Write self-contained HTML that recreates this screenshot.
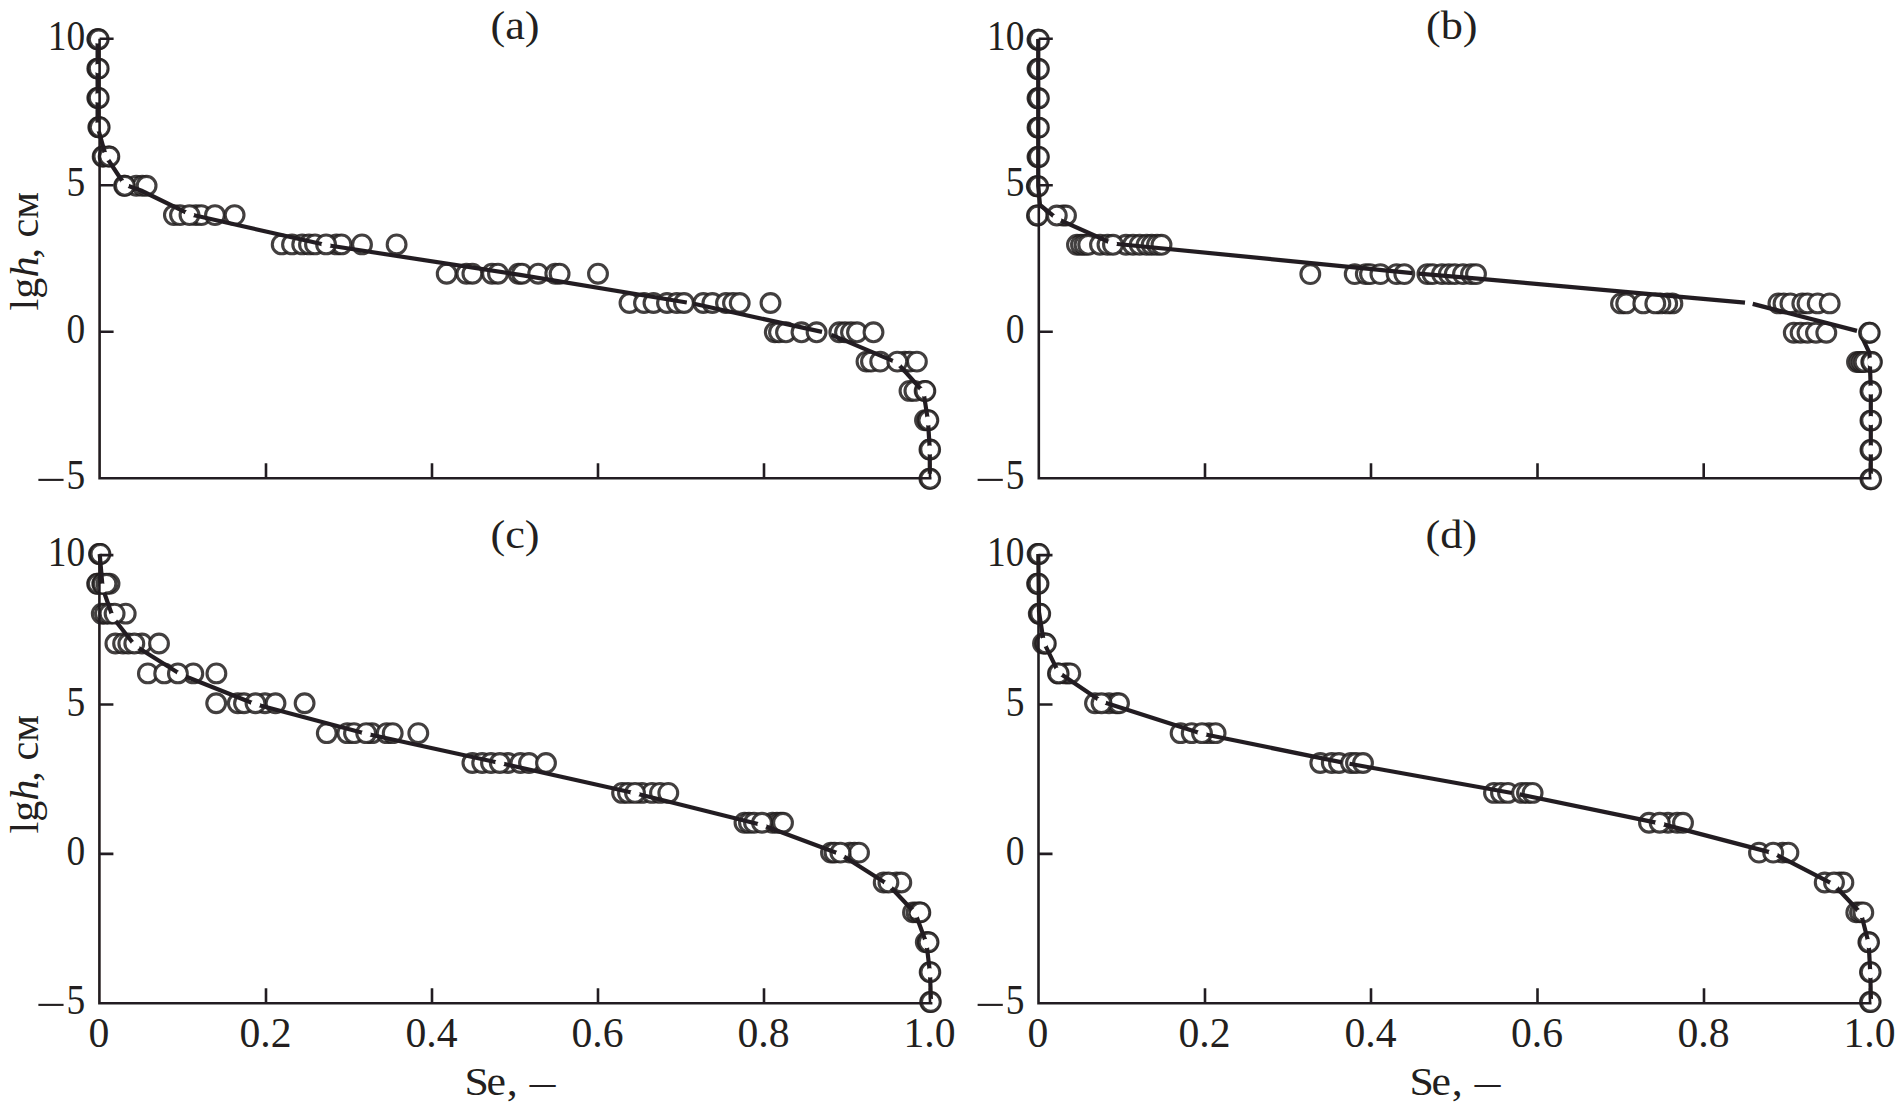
<!DOCTYPE html>
<html lang="ru">
<head>
<meta charset="utf-8">
<title>lgh – Se</title>
<style>
html,body{margin:0;padding:0;background:#fff;}
body{width:1900px;height:1111px;overflow:hidden;}
svg{display:block;}
text{font-family:"Liberation Serif",serif;font-size:41px;fill:#231f20;}
.yt{text-anchor:end;}
.xt{text-anchor:middle;}
.it{font-style:italic;}
.pts circle{stroke:#231f20;stroke-opacity:.86;stroke-width:3.1;}
.fit{fill:none;stroke:#231f20;stroke-width:4.2;stroke-linejoin:round;stroke-linecap:butt;}
.axis{fill:none;stroke:#231f20;stroke-width:2.6;stroke-linecap:butt;stroke-linejoin:miter;}
</style>
</head>
<body>
<svg width="1900" height="1111" viewBox="0 0 1900 1111">
<defs><filter id="soft" x="-2%" y="-2%" width="104%" height="104%"><feGaussianBlur stdDeviation="0.6"/></filter></defs>
<rect width="1900" height="1111" fill="#fff"/>
<g class="panel" id="panel-a" filter="url(#soft)">
<g class="pts"><circle cx="97.3" cy="39.3" r="9.4" fill="#fff"/><circle cx="98" cy="39.3" r="9.4" fill="#fff"/><circle cx="98.7" cy="39.3" r="9.4" fill="#fff"/><circle cx="97.3" cy="68.6" r="9.4" fill="#fff"/><circle cx="98" cy="68.6" r="9.4" fill="#fff"/><circle cx="98.7" cy="68.6" r="9.4" fill="#fff"/><circle cx="97.3" cy="97.9" r="9.4" fill="#fff"/><circle cx="98" cy="97.9" r="9.4" fill="#fff"/><circle cx="98.7" cy="97.9" r="9.4" fill="#fff"/><circle cx="98.3" cy="127.2" r="9.4" fill="#fff"/><circle cx="99" cy="127.2" r="9.4" fill="#fff"/><circle cx="99.7" cy="127.2" r="9.4" fill="#fff"/><circle cx="102.65" cy="156.5" r="9.4" fill="#fff"/><circle cx="103.35" cy="156.5" r="9.4" fill="#fff"/><circle cx="136.3" cy="185.8" r="9.4" fill="#fff"/><circle cx="142.3" cy="185.8" r="9.4" fill="#fff"/><circle cx="146.6" cy="185.8" r="9.4" fill="#fff"/><circle cx="173.9" cy="215.1" r="9.4" fill="#fff"/><circle cx="180" cy="215.1" r="9.4" fill="#fff"/><circle cx="196" cy="215.1" r="9.4" fill="#fff"/><circle cx="201.3" cy="215.1" r="9.4" fill="#fff"/><circle cx="215" cy="215.1" r="9.4" fill="#fff"/><circle cx="234.6" cy="215.1" r="9.4" fill="#fff"/><circle cx="281.7" cy="244.4" r="9.4" fill="#fff"/><circle cx="292" cy="244.4" r="9.4" fill="#fff"/><circle cx="302.2" cy="244.4" r="9.4" fill="#fff"/><circle cx="309" cy="244.4" r="9.4" fill="#fff"/><circle cx="315" cy="244.4" r="9.4" fill="#fff"/><circle cx="336.4" cy="244.4" r="9.4" fill="#fff"/><circle cx="341.5" cy="244.4" r="9.4" fill="#fff"/><circle cx="362" cy="244.4" r="9.4" fill="#fff"/><circle cx="396.6" cy="244.4" r="9.4" fill="#fff"/><circle cx="446.7" cy="273.7" r="9.4" fill="#fff"/><circle cx="466.4" cy="273.7" r="9.4" fill="#fff"/><circle cx="472.4" cy="273.7" r="9.4" fill="#fff"/><circle cx="492" cy="273.7" r="9.4" fill="#fff"/><circle cx="498" cy="273.7" r="9.4" fill="#fff"/><circle cx="518.5" cy="273.7" r="9.4" fill="#fff"/><circle cx="522" cy="273.7" r="9.4" fill="#fff"/><circle cx="538.2" cy="273.7" r="9.4" fill="#fff"/><circle cx="555.3" cy="273.7" r="9.4" fill="#fff"/><circle cx="559.6" cy="273.7" r="9.4" fill="#fff"/><circle cx="598" cy="273.7" r="9.4" fill="#fff"/><circle cx="629.5" cy="303" r="9.4" fill="#fff"/><circle cx="644" cy="303" r="9.4" fill="#fff"/><circle cx="653.5" cy="303" r="9.4" fill="#fff"/><circle cx="667" cy="303" r="9.4" fill="#fff"/><circle cx="676.8" cy="303" r="9.4" fill="#fff"/><circle cx="684" cy="303" r="9.4" fill="#fff"/><circle cx="703.3" cy="303" r="9.4" fill="#fff"/><circle cx="712.4" cy="303" r="9.4" fill="#fff"/><circle cx="726" cy="303" r="9.4" fill="#fff"/><circle cx="733" cy="303" r="9.4" fill="#fff"/><circle cx="739.7" cy="303" r="9.4" fill="#fff"/><circle cx="770.5" cy="303" r="9.4" fill="#fff"/><circle cx="774.8" cy="332.3" r="9.4" fill="#fff"/><circle cx="779" cy="332.3" r="9.4" fill="#fff"/><circle cx="786" cy="332.3" r="9.4" fill="#fff"/><circle cx="801.5" cy="332.3" r="9.4" fill="#fff"/><circle cx="816.6" cy="332.3" r="9.4" fill="#fff"/><circle cx="839.3" cy="332.3" r="9.4" fill="#fff"/><circle cx="845" cy="332.3" r="9.4" fill="#fff"/><circle cx="851" cy="332.3" r="9.4" fill="#fff"/><circle cx="857" cy="332.3" r="9.4" fill="#fff"/><circle cx="873.5" cy="332.3" r="9.4" fill="#fff"/><circle cx="866.5" cy="361.6" r="9.4" fill="#fff"/><circle cx="871" cy="361.6" r="9.4" fill="#fff"/><circle cx="880.2" cy="361.6" r="9.4" fill="#fff"/><circle cx="904.7" cy="361.6" r="9.4" fill="#fff"/><circle cx="909.6" cy="361.6" r="9.4" fill="#fff"/><circle cx="916.9" cy="361.6" r="9.4" fill="#fff"/><circle cx="909.5" cy="390.9" r="9.4" fill="#fff"/><circle cx="914.4" cy="390.9" r="9.4" fill="#fff"/><circle cx="925" cy="420.2" r="9.4" fill="#fff"/><circle cx="108.65" cy="156.5" r="9.4" fill="#fff"/><circle cx="109.35" cy="156.5" r="9.4" fill="#fff"/><circle cx="124.15" cy="185.8" r="9.4" fill="#fff"/><circle cx="124.85" cy="185.8" r="9.4" fill="#fff"/><circle cx="189.5" cy="215.1" r="9.4" fill="#fff"/><circle cx="326.1" cy="244.4" r="9.4" fill="#fff"/><circle cx="897.3" cy="361.6" r="9.4" fill="#fff"/><circle cx="924.65" cy="390.9" r="9.4" fill="#fff"/><circle cx="925.35" cy="390.9" r="9.4" fill="#fff"/><circle cx="927.65" cy="420.2" r="9.4" fill="#fff"/><circle cx="928.35" cy="420.2" r="9.4" fill="#fff"/><circle cx="929.45" cy="449.5" r="9.4" fill="#fff"/><circle cx="930.15" cy="449.5" r="9.4" fill="#fff"/><circle cx="929.45" cy="478.8" r="9.4" fill="#fff"/><circle cx="930.15" cy="478.8" r="9.4" fill="#fff"/></g>
<polyline class="fit" points="97.6,39 97.6,127 106,156.5 124.5,184.5 141,190.5 189.5,214.2 203,217.3 326,245 518.5,274.7 686.8,302.49"/>
<polyline class="fit" points="694,303.71 822,331.9"/>
<polyline class="fit" points="831.5,334.9 897,362.6 923.5,392 928,421 929.8,450 929.8,478"/>
<g fill="#fff"><circle cx="97.6" cy="39" r="4.6"/><circle cx="98" cy="68.6" r="4.6"/><circle cx="98" cy="97.9" r="4.6"/><circle cx="97.6" cy="127" r="4.6"/><circle cx="106" cy="156.5" r="4.6"/><circle cx="124.5" cy="184.5" r="4.6"/><circle cx="189.5" cy="214.2" r="4.6"/><circle cx="326" cy="245" r="4.6"/><circle cx="897" cy="362.6" r="4.6"/><circle cx="923.5" cy="392" r="4.6"/><circle cx="928" cy="421" r="4.6"/><circle cx="929.8" cy="450" r="4.6"/><circle cx="929.8" cy="478" r="4.6"/></g>
<path class="axis" d="M99.6,38.7V478.2H931.5M99.6,38.7h14M99.6,185.2h14M99.6,331.7h14M266,478.2v-15M432,478.2v-15M598,478.2v-15M764,478.2v-15M930,478.2v-15"/>
</g>
<g class="panel" id="panel-b" filter="url(#soft)">
<g class="pts"><circle cx="1037.5" cy="39.7" r="9.4" fill="#fff"/><circle cx="1038.2" cy="39.7" r="9.4" fill="#fff"/><circle cx="1038.9" cy="39.7" r="9.4" fill="#fff"/><circle cx="1037.5" cy="69" r="9.4" fill="#fff"/><circle cx="1038.2" cy="69" r="9.4" fill="#fff"/><circle cx="1038.9" cy="69" r="9.4" fill="#fff"/><circle cx="1037.5" cy="98.3" r="9.4" fill="#fff"/><circle cx="1038.2" cy="98.3" r="9.4" fill="#fff"/><circle cx="1038.9" cy="98.3" r="9.4" fill="#fff"/><circle cx="1037.5" cy="127.6" r="9.4" fill="#fff"/><circle cx="1038.2" cy="127.6" r="9.4" fill="#fff"/><circle cx="1038.9" cy="127.6" r="9.4" fill="#fff"/><circle cx="1037.5" cy="156.9" r="9.4" fill="#fff"/><circle cx="1038.2" cy="156.9" r="9.4" fill="#fff"/><circle cx="1038.9" cy="156.9" r="9.4" fill="#fff"/><circle cx="1036.8" cy="186.2" r="9.4" fill="#fff"/><circle cx="1037.5" cy="186.2" r="9.4" fill="#fff"/><circle cx="1038.2" cy="186.2" r="9.4" fill="#fff"/><circle cx="1036.95" cy="215.5" r="9.4" fill="#fff"/><circle cx="1037.65" cy="215.5" r="9.4" fill="#fff"/><circle cx="1062.8" cy="215.5" r="9.4" fill="#fff"/><circle cx="1066" cy="215.5" r="9.4" fill="#fff"/><circle cx="1077" cy="244.8" r="9.4" fill="#fff"/><circle cx="1081" cy="244.8" r="9.4" fill="#fff"/><circle cx="1084.5" cy="244.8" r="9.4" fill="#fff"/><circle cx="1088.2" cy="244.8" r="9.4" fill="#fff"/><circle cx="1100" cy="244.8" r="9.4" fill="#fff"/><circle cx="1107.5" cy="244.8" r="9.4" fill="#fff"/><circle cx="1126" cy="244.8" r="9.4" fill="#fff"/><circle cx="1133" cy="244.8" r="9.4" fill="#fff"/><circle cx="1139.7" cy="244.8" r="9.4" fill="#fff"/><circle cx="1146.6" cy="244.8" r="9.4" fill="#fff"/><circle cx="1151.7" cy="244.8" r="9.4" fill="#fff"/><circle cx="1157" cy="244.8" r="9.4" fill="#fff"/><circle cx="1161.5" cy="244.8" r="9.4" fill="#fff"/><circle cx="1310.3" cy="274.1" r="9.4" fill="#fff"/><circle cx="1354.7" cy="274.1" r="9.4" fill="#fff"/><circle cx="1365.8" cy="274.1" r="9.4" fill="#fff"/><circle cx="1370" cy="274.1" r="9.4" fill="#fff"/><circle cx="1380.4" cy="274.1" r="9.4" fill="#fff"/><circle cx="1396.6" cy="274.1" r="9.4" fill="#fff"/><circle cx="1404.3" cy="274.1" r="9.4" fill="#fff"/><circle cx="1427.4" cy="274.1" r="9.4" fill="#fff"/><circle cx="1432.5" cy="274.1" r="9.4" fill="#fff"/><circle cx="1442" cy="274.1" r="9.4" fill="#fff"/><circle cx="1448.8" cy="274.1" r="9.4" fill="#fff"/><circle cx="1454.8" cy="274.1" r="9.4" fill="#fff"/><circle cx="1463" cy="274.1" r="9.4" fill="#fff"/><circle cx="1471" cy="274.1" r="9.4" fill="#fff"/><circle cx="1476" cy="274.1" r="9.4" fill="#fff"/><circle cx="1621" cy="303.4" r="9.4" fill="#fff"/><circle cx="1626.2" cy="303.4" r="9.4" fill="#fff"/><circle cx="1643.3" cy="303.4" r="9.4" fill="#fff"/><circle cx="1672.4" cy="303.4" r="9.4" fill="#fff"/><circle cx="1667.2" cy="303.4" r="9.4" fill="#fff"/><circle cx="1660.4" cy="303.4" r="9.4" fill="#fff"/><circle cx="1655.3" cy="303.4" r="9.4" fill="#fff"/><circle cx="1778.4" cy="303.4" r="9.4" fill="#fff"/><circle cx="1783.5" cy="303.4" r="9.4" fill="#fff"/><circle cx="1790.4" cy="303.4" r="9.4" fill="#fff"/><circle cx="1802.3" cy="303.4" r="9.4" fill="#fff"/><circle cx="1807.5" cy="303.4" r="9.4" fill="#fff"/><circle cx="1817.7" cy="303.4" r="9.4" fill="#fff"/><circle cx="1829.7" cy="303.4" r="9.4" fill="#fff"/><circle cx="1793.8" cy="332.7" r="9.4" fill="#fff"/><circle cx="1800.6" cy="332.7" r="9.4" fill="#fff"/><circle cx="1807.5" cy="332.7" r="9.4" fill="#fff"/><circle cx="1816" cy="332.7" r="9.4" fill="#fff"/><circle cx="1826.3" cy="332.7" r="9.4" fill="#fff"/><circle cx="1857" cy="362" r="9.4" fill="#fff"/><circle cx="1859.5" cy="362" r="9.4" fill="#fff"/><circle cx="1862" cy="362" r="9.4" fill="#fff"/><circle cx="1864.5" cy="362" r="9.4" fill="#fff"/><circle cx="1056.8" cy="215.5" r="9.4" fill="#fff"/><circle cx="1113" cy="244.8" r="9.4" fill="#fff"/><circle cx="1871.25" cy="362" r="9.4" fill="#fff"/><circle cx="1871.95" cy="362" r="9.4" fill="#fff"/><circle cx="1870.45" cy="391.3" r="9.4" fill="#fff"/><circle cx="1871.15" cy="391.3" r="9.4" fill="#fff"/><circle cx="1870.45" cy="420.6" r="9.4" fill="#fff"/><circle cx="1871.15" cy="420.6" r="9.4" fill="#fff"/><circle cx="1870.45" cy="449.9" r="9.4" fill="#fff"/><circle cx="1871.15" cy="449.9" r="9.4" fill="#fff"/><circle cx="1870.45" cy="479.2" r="9.4" fill="#fff"/><circle cx="1871.15" cy="479.2" r="9.4" fill="#fff"/></g>
<polyline class="fit" points="1038.2,39 1038.2,186 1040,205 1056.8,218.7 1112.4,243.5 1412.5,273.05"/>
<polyline class="fit" points="1418.5,273.6 1477.9,278.7 1745,302.7"/>
<polyline class="fit" points="1752.7,303.9 1857,330.9"/>
<polyline class="fit" points="1862.2,337.7 1869.5,353 1870.8,390 1870.8,478"/>
<g fill="#fff"><circle cx="1056.8" cy="218.7" r="4.6"/><circle cx="1112.4" cy="243.5" r="4.6"/><circle cx="1871.6" cy="362" r="4.6"/><circle cx="1870.8" cy="390" r="4.6"/><circle cx="1870.8" cy="420.6" r="4.6"/><circle cx="1870.8" cy="449.9" r="4.6"/><circle cx="1870.8" cy="478" r="4.6"/></g>
<g class="pts"><circle cx="1869.05" cy="332.7" r="9.4" fill="#fff"/><circle cx="1869.75" cy="332.7" r="9.4" fill="#fff"/></g>
<path class="axis" d="M1038.8,38.7V478.2H1871.5M1038.8,38.7h14M1038.8,185.2h14M1038.8,331.7h14M1205,478.2v-15M1371,478.2v-15M1537.5,478.2v-15M1703.7,478.2v-15M1870,478.2v-15"/>
</g>
<g class="panel" id="panel-c" filter="url(#soft)">
<g class="pts"><circle cx="99" cy="553.9" r="9.4" fill="#fff"/><circle cx="99.7" cy="553.9" r="9.4" fill="#fff"/><circle cx="100.4" cy="553.9" r="9.4" fill="#fff"/><circle cx="97.15" cy="583.77" r="9.4" fill="#fff"/><circle cx="97.85" cy="583.77" r="9.4" fill="#fff"/><circle cx="102.25" cy="583.77" r="9.4" fill="#fff"/><circle cx="102.95" cy="583.77" r="9.4" fill="#fff"/><circle cx="109.5" cy="583.77" r="9.4" fill="#fff"/><circle cx="101.8" cy="613.65" r="9.4" fill="#fff"/><circle cx="105" cy="613.65" r="9.4" fill="#fff"/><circle cx="109.5" cy="613.65" r="9.4" fill="#fff"/><circle cx="125.7" cy="613.65" r="9.4" fill="#fff"/><circle cx="115.4" cy="643.52" r="9.4" fill="#fff"/><circle cx="123.1" cy="643.52" r="9.4" fill="#fff"/><circle cx="128.3" cy="643.52" r="9.4" fill="#fff"/><circle cx="142" cy="643.52" r="9.4" fill="#fff"/><circle cx="159" cy="643.52" r="9.4" fill="#fff"/><circle cx="147.9" cy="673.39" r="9.4" fill="#fff"/><circle cx="164.2" cy="673.39" r="9.4" fill="#fff"/><circle cx="193.3" cy="673.39" r="9.4" fill="#fff"/><circle cx="216.4" cy="673.39" r="9.4" fill="#fff"/><circle cx="216.2" cy="703.27" r="9.4" fill="#fff"/><circle cx="237.8" cy="703.27" r="9.4" fill="#fff"/><circle cx="244" cy="703.27" r="9.4" fill="#fff"/><circle cx="265" cy="703.27" r="9.4" fill="#fff"/><circle cx="275.5" cy="703.27" r="9.4" fill="#fff"/><circle cx="304.6" cy="703.27" r="9.4" fill="#fff"/><circle cx="326.8" cy="733.14" r="9.4" fill="#fff"/><circle cx="347.3" cy="733.14" r="9.4" fill="#fff"/><circle cx="354" cy="733.14" r="9.4" fill="#fff"/><circle cx="372" cy="733.14" r="9.4" fill="#fff"/><circle cx="386.7" cy="733.14" r="9.4" fill="#fff"/><circle cx="392.7" cy="733.14" r="9.4" fill="#fff"/><circle cx="418.3" cy="733.14" r="9.4" fill="#fff"/><circle cx="472.4" cy="763.01" r="9.4" fill="#fff"/><circle cx="482.2" cy="763.01" r="9.4" fill="#fff"/><circle cx="491" cy="763.01" r="9.4" fill="#fff"/><circle cx="508" cy="763.01" r="9.4" fill="#fff"/><circle cx="520.4" cy="763.01" r="9.4" fill="#fff"/><circle cx="529" cy="763.01" r="9.4" fill="#fff"/><circle cx="546" cy="763.01" r="9.4" fill="#fff"/><circle cx="622.1" cy="792.89" r="9.4" fill="#fff"/><circle cx="628" cy="792.89" r="9.4" fill="#fff"/><circle cx="642" cy="792.89" r="9.4" fill="#fff"/><circle cx="652" cy="792.89" r="9.4" fill="#fff"/><circle cx="660" cy="792.89" r="9.4" fill="#fff"/><circle cx="668.3" cy="792.89" r="9.4" fill="#fff"/><circle cx="744.5" cy="822.76" r="9.4" fill="#fff"/><circle cx="749" cy="822.76" r="9.4" fill="#fff"/><circle cx="754" cy="822.76" r="9.4" fill="#fff"/><circle cx="772.5" cy="822.76" r="9.4" fill="#fff"/><circle cx="777" cy="822.76" r="9.4" fill="#fff"/><circle cx="780.7" cy="822.76" r="9.4" fill="#fff"/><circle cx="783" cy="822.76" r="9.4" fill="#fff"/><circle cx="831" cy="852.63" r="9.4" fill="#fff"/><circle cx="834.5" cy="852.63" r="9.4" fill="#fff"/><circle cx="849.8" cy="852.63" r="9.4" fill="#fff"/><circle cx="854.5" cy="852.63" r="9.4" fill="#fff"/><circle cx="859" cy="852.63" r="9.4" fill="#fff"/><circle cx="883.7" cy="882.51" r="9.4" fill="#fff"/><circle cx="896.6" cy="882.51" r="9.4" fill="#fff"/><circle cx="901.3" cy="882.51" r="9.4" fill="#fff"/><circle cx="913" cy="912.38" r="9.4" fill="#fff"/><circle cx="916.5" cy="912.38" r="9.4" fill="#fff"/><circle cx="925.8" cy="942.25" r="9.4" fill="#fff"/><circle cx="106.5" cy="583.77" r="9.4" fill="#fff"/><circle cx="114.6" cy="613.65" r="9.4" fill="#fff"/><circle cx="134.3" cy="643.52" r="9.4" fill="#fff"/><circle cx="177.9" cy="673.39" r="9.4" fill="#fff"/><circle cx="255.5" cy="703.27" r="9.4" fill="#fff"/><circle cx="366.2" cy="733.14" r="9.4" fill="#fff"/><circle cx="499.8" cy="763.01" r="9.4" fill="#fff"/><circle cx="635" cy="792.89" r="9.4" fill="#fff"/><circle cx="762" cy="822.76" r="9.4" fill="#fff"/><circle cx="840.4" cy="852.63" r="9.4" fill="#fff"/><circle cx="888.4" cy="882.51" r="9.4" fill="#fff"/><circle cx="919.65" cy="912.38" r="9.4" fill="#fff"/><circle cx="920.35" cy="912.38" r="9.4" fill="#fff"/><circle cx="927.85" cy="942.25" r="9.4" fill="#fff"/><circle cx="928.55" cy="942.25" r="9.4" fill="#fff"/><circle cx="929.65" cy="972.13" r="9.4" fill="#fff"/><circle cx="930.35" cy="972.13" r="9.4" fill="#fff"/><circle cx="930.15" cy="1002" r="9.4" fill="#fff"/><circle cx="930.85" cy="1002" r="9.4" fill="#fff"/></g>
<polyline class="fit" points="99.7,554 102.6,588 112.9,617.5 135.1,645.7 181.3,674.8 255.5,704.3 366.2,733.8 499.8,763 635,793.2 762,825 840.4,854.2 888.4,884.7 915.3,913.2 926.5,943.6 930,972.9 931,1003.3"/>
<g fill="#fff"><circle cx="102.6" cy="588" r="4.6"/><circle cx="112.9" cy="617.5" r="4.6"/><circle cx="135.1" cy="645.7" r="4.6"/><circle cx="181.3" cy="674.8" r="4.6"/><circle cx="255.5" cy="704.3" r="4.6"/><circle cx="366.2" cy="733.8" r="4.6"/><circle cx="499.8" cy="763" r="4.6"/><circle cx="635" cy="793.2" r="4.6"/><circle cx="762" cy="825" r="4.6"/><circle cx="840.4" cy="854.2" r="4.6"/><circle cx="888.4" cy="884.7" r="4.6"/><circle cx="915.3" cy="913.2" r="4.6"/><circle cx="926.5" cy="943.6" r="4.6"/><circle cx="930" cy="972.9" r="4.6"/><circle cx="931" cy="1003.3" r="4.6"/></g>
<path class="axis" d="M99.4,555.1V1003.2H932.4M99.4,555.1h14M99.4,704.47h14M99.4,853.83h14M266,1003.2v-15M432,1003.2v-15M598,1003.2v-15M764,1003.2v-15M930,1003.2v-15"/>
</g>
<g class="panel" id="panel-d" filter="url(#soft)">
<g class="pts"><circle cx="1037.6" cy="553.9" r="9.4" fill="#fff"/><circle cx="1038.3" cy="553.9" r="9.4" fill="#fff"/><circle cx="1039" cy="553.9" r="9.4" fill="#fff"/><circle cx="1037.1" cy="583.77" r="9.4" fill="#fff"/><circle cx="1037.8" cy="583.77" r="9.4" fill="#fff"/><circle cx="1038.5" cy="583.77" r="9.4" fill="#fff"/><circle cx="1038.8" cy="613.65" r="9.4" fill="#fff"/><circle cx="1039.5" cy="613.65" r="9.4" fill="#fff"/><circle cx="1040.2" cy="613.65" r="9.4" fill="#fff"/><circle cx="1043" cy="643.52" r="9.4" fill="#fff"/><circle cx="1065" cy="673.39" r="9.4" fill="#fff"/><circle cx="1067.8" cy="673.39" r="9.4" fill="#fff"/><circle cx="1070.3" cy="673.39" r="9.4" fill="#fff"/><circle cx="1095" cy="703.27" r="9.4" fill="#fff"/><circle cx="1109" cy="703.27" r="9.4" fill="#fff"/><circle cx="1116.4" cy="703.27" r="9.4" fill="#fff"/><circle cx="1119" cy="703.27" r="9.4" fill="#fff"/><circle cx="1180.6" cy="733.14" r="9.4" fill="#fff"/><circle cx="1191.7" cy="733.14" r="9.4" fill="#fff"/><circle cx="1209" cy="733.14" r="9.4" fill="#fff"/><circle cx="1215.6" cy="733.14" r="9.4" fill="#fff"/><circle cx="1320.3" cy="763.01" r="9.4" fill="#fff"/><circle cx="1331.8" cy="763.01" r="9.4" fill="#fff"/><circle cx="1339" cy="763.01" r="9.4" fill="#fff"/><circle cx="1351" cy="763.01" r="9.4" fill="#fff"/><circle cx="1356" cy="763.01" r="9.4" fill="#fff"/><circle cx="1363" cy="763.01" r="9.4" fill="#fff"/><circle cx="1494" cy="792.89" r="9.4" fill="#fff"/><circle cx="1501" cy="792.89" r="9.4" fill="#fff"/><circle cx="1508" cy="792.89" r="9.4" fill="#fff"/><circle cx="1522" cy="792.89" r="9.4" fill="#fff"/><circle cx="1527" cy="792.89" r="9.4" fill="#fff"/><circle cx="1532.6" cy="792.89" r="9.4" fill="#fff"/><circle cx="1649" cy="822.76" r="9.4" fill="#fff"/><circle cx="1668" cy="822.76" r="9.4" fill="#fff"/><circle cx="1677.2" cy="822.76" r="9.4" fill="#fff"/><circle cx="1683" cy="822.76" r="9.4" fill="#fff"/><circle cx="1759" cy="852.63" r="9.4" fill="#fff"/><circle cx="1782.5" cy="852.63" r="9.4" fill="#fff"/><circle cx="1788.4" cy="852.63" r="9.4" fill="#fff"/><circle cx="1824.7" cy="882.51" r="9.4" fill="#fff"/><circle cx="1839.5" cy="882.51" r="9.4" fill="#fff"/><circle cx="1843.4" cy="882.51" r="9.4" fill="#fff"/><circle cx="1856.3" cy="912.38" r="9.4" fill="#fff"/><circle cx="1860" cy="912.38" r="9.4" fill="#fff"/><circle cx="1045.15" cy="643.52" r="9.4" fill="#fff"/><circle cx="1045.85" cy="643.52" r="9.4" fill="#fff"/><circle cx="1057.95" cy="673.39" r="9.4" fill="#fff"/><circle cx="1058.65" cy="673.39" r="9.4" fill="#fff"/><circle cx="1101.5" cy="703.27" r="9.4" fill="#fff"/><circle cx="1202" cy="733.14" r="9.4" fill="#fff"/><circle cx="1659.7" cy="822.76" r="9.4" fill="#fff"/><circle cx="1773.2" cy="852.63" r="9.4" fill="#fff"/><circle cx="1834" cy="882.51" r="9.4" fill="#fff"/><circle cx="1863.3" cy="912.38" r="9.4" fill="#fff"/><circle cx="1868.35" cy="942.25" r="9.4" fill="#fff"/><circle cx="1869.05" cy="942.25" r="9.4" fill="#fff"/><circle cx="1869.95" cy="972.13" r="9.4" fill="#fff"/><circle cx="1870.65" cy="972.13" r="9.4" fill="#fff"/><circle cx="1869.95" cy="1002" r="9.4" fill="#fff"/><circle cx="1870.65" cy="1002" r="9.4" fill="#fff"/></g>
<polyline class="fit" points="1038.3,554 1039,612 1043.8,642.3 1058.3,672.2 1101.5,701.5 1202,733.8 1342,762.33"/>
<polyline class="fit" points="1349.5,763.76 1512,792.97"/>
<polyline class="fit" points="1519.5,794.43 1659.7,823.4 1773.2,853.1 1834,884.7 1861,913.5 1868.7,943.6 1870.3,973.6 1871,1003.3"/>
<g fill="#fff"><circle cx="1043.8" cy="642.3" r="4.6"/><circle cx="1058.3" cy="672.2" r="4.6"/><circle cx="1101.5" cy="701.5" r="4.6"/><circle cx="1202" cy="733.8" r="4.6"/><circle cx="1659.7" cy="823.4" r="4.6"/><circle cx="1773.2" cy="853.1" r="4.6"/><circle cx="1834" cy="884.7" r="4.6"/><circle cx="1861" cy="913.5" r="4.6"/><circle cx="1868.7" cy="943.6" r="4.6"/><circle cx="1870.3" cy="973.6" r="4.6"/><circle cx="1871" cy="1003.3" r="4.6"/></g>
<path class="axis" d="M1038.5,555.1V1003.2H1871.5M1038.5,555.1h14M1038.5,704.47h14M1038.5,853.83h14M1205,1003.2v-15M1371,1003.2v-15M1537.5,1003.2v-15M1704,1003.2v-15M1870,1003.2v-15"/>
</g>
<g class="labels">
<text transform="translate(85.2,49.9) scale(0.87,1)" style="font-size:43px" text-anchor="end">10</text>
<text transform="translate(85.2,196.4) scale(0.87,1)" style="font-size:43px" text-anchor="end">5</text>
<text transform="translate(85.2,342.9) scale(0.87,1)" style="font-size:43px" text-anchor="end">0</text>
<text transform="translate(85.2,489.4) scale(0.87,1)" style="font-size:43px" text-anchor="end">5</text>
<text transform="translate(66.4,494.1) scale(1.26,1)" style="font-size:43px" text-anchor="end">−</text>
<text transform="translate(1024.4,49.9) scale(0.87,1)" style="font-size:43px" text-anchor="end">10</text>
<text transform="translate(1024.4,196.4) scale(0.87,1)" style="font-size:43px" text-anchor="end">5</text>
<text transform="translate(1024.4,342.9) scale(0.87,1)" style="font-size:43px" text-anchor="end">0</text>
<text transform="translate(1024.4,489.4) scale(0.87,1)" style="font-size:43px" text-anchor="end">5</text>
<text transform="translate(1005.6,494.1) scale(1.26,1)" style="font-size:43px" text-anchor="end">−</text>
<text transform="translate(85.2,566.3) scale(0.87,1)" style="font-size:43px" text-anchor="end">10</text>
<text transform="translate(85.2,715.67) scale(0.87,1)" style="font-size:43px" text-anchor="end">5</text>
<text transform="translate(85.2,865.03) scale(0.87,1)" style="font-size:43px" text-anchor="end">0</text>
<text transform="translate(85.2,1014.4) scale(0.87,1)" style="font-size:43px" text-anchor="end">5</text>
<text transform="translate(66.4,1019.1) scale(1.26,1)" style="font-size:43px" text-anchor="end">−</text>
<text transform="translate(1024.4,566.3) scale(0.87,1)" style="font-size:43px" text-anchor="end">10</text>
<text transform="translate(1024.4,715.67) scale(0.87,1)" style="font-size:43px" text-anchor="end">5</text>
<text transform="translate(1024.4,865.03) scale(0.87,1)" style="font-size:43px" text-anchor="end">0</text>
<text transform="translate(1024.4,1014.4) scale(0.87,1)" style="font-size:43px" text-anchor="end">5</text>
<text transform="translate(1005.6,1019.1) scale(1.26,1)" style="font-size:43px" text-anchor="end">−</text>
<text transform="translate(98.9,1047.3) scale(0.97,1)" style="font-size:43px" text-anchor="middle">0</text>
<text transform="translate(265.5,1047.3) scale(0.97,1)" style="font-size:43px" text-anchor="middle">0.2</text>
<text transform="translate(431.5,1047.3) scale(0.97,1)" style="font-size:43px" text-anchor="middle">0.4</text>
<text transform="translate(597.5,1047.3) scale(0.97,1)" style="font-size:43px" text-anchor="middle">0.6</text>
<text transform="translate(763.5,1047.3) scale(0.97,1)" style="font-size:43px" text-anchor="middle">0.8</text>
<text transform="translate(929.5,1047.3) scale(0.97,1)" style="font-size:43px" text-anchor="middle">1.0</text>
<text transform="translate(1038,1047.3) scale(0.97,1)" style="font-size:43px" text-anchor="middle">0</text>
<text transform="translate(1204.5,1047.3) scale(0.97,1)" style="font-size:43px" text-anchor="middle">0.2</text>
<text transform="translate(1370.5,1047.3) scale(0.97,1)" style="font-size:43px" text-anchor="middle">0.4</text>
<text transform="translate(1537,1047.3) scale(0.97,1)" style="font-size:43px" text-anchor="middle">0.6</text>
<text transform="translate(1703.5,1047.3) scale(0.97,1)" style="font-size:43px" text-anchor="middle">0.8</text>
<text transform="translate(1869.5,1047.3) scale(0.97,1)" style="font-size:43px" text-anchor="middle">1.0</text>
<text transform="translate(515,39) scale(1.08,1)" style="font-size:41px" text-anchor="middle">(a)</text>
<text transform="translate(1451.7,39) scale(1.08,1)" style="font-size:41px" text-anchor="middle">(b)</text>
<text transform="translate(515,548) scale(1.08,1)" style="font-size:41px" text-anchor="middle">(c)</text>
<text transform="translate(1451.2,548) scale(1.08,1)" style="font-size:41px" text-anchor="middle">(d)</text>
<text transform="translate(464.4,1095) scale(1.07,1)" style="font-size:41px">S<tspan dx="-2.1">e</tspan><tspan dx="0.6">,</tspan></text>
<text transform="translate(529.8,1095) scale(1.25,1)" style="font-size:41px">–</text>
<text transform="translate(1409.4,1095) scale(1.07,1)" style="font-size:41px">S<tspan dx="-2.1">e</tspan><tspan dx="0.6">,</tspan></text>
<text transform="translate(1474.8,1095) scale(1.25,1)" style="font-size:41px">–</text>
<text transform="translate(37.8,310.4) rotate(-90) scale(1.03,1)" style="font-size:41px">lg<tspan class="it">h</tspan><tspan dx="-2">,</tspan> см</text>
<text transform="translate(37.8,833.6) rotate(-90) scale(1.03,1)" style="font-size:41px">lg<tspan class="it">h</tspan><tspan dx="-2">,</tspan> см</text>
</g>
</svg>
</body>
</html>
